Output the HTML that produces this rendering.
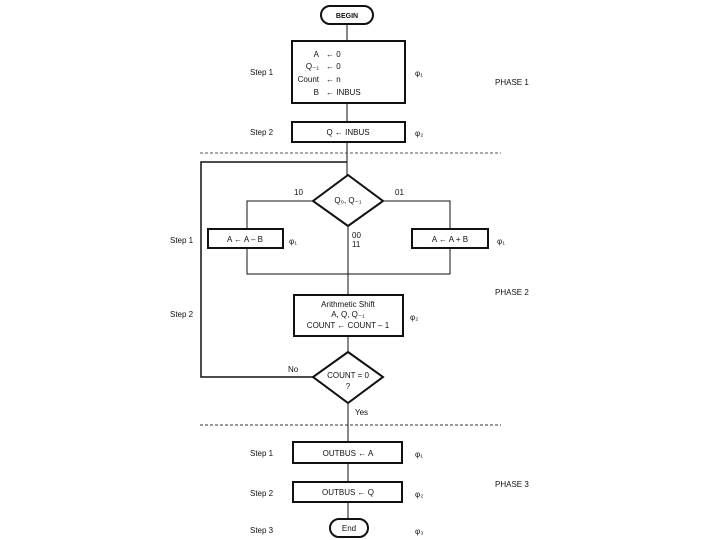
<!DOCTYPE html>
<html><head><meta charset="utf-8"><style>
html,body{margin:0;padding:0;background:#fff;}
svg{display:block;}
text{font-family:"Liberation Sans",sans-serif;font-size:8px;fill:#111;}
</style></head><body>
<svg width="720" height="540" viewBox="0 0 720 540" xmlns="http://www.w3.org/2000/svg">
<g stroke="#111" fill="none">
<!-- begin -->
<rect x="321" y="6" width="52" height="18" rx="9" stroke-width="2"/>
<line x1="347" y1="24" x2="347" y2="40" stroke-width="1"/>
<rect x="292" y="41" width="113" height="62" stroke-width="2"/>
<line x1="347" y1="103" x2="347" y2="121" stroke-width="1"/>
<rect x="292" y="122" width="113" height="20" stroke-width="2"/>
<line x1="347" y1="142" x2="347" y2="175" stroke-width="1"/>
<line x1="200" y1="153" x2="501" y2="153" stroke-width="1" stroke-dasharray="3,2" stroke="#555"/>
<!-- loop -->
<polyline points="313,377 201,377 201,162 347,162" stroke-width="1.5"/>
<!-- diamond 1 -->
<polygon points="348,175 383,201 348,226 313,201" stroke-width="2"/>
<polyline points="313,201 247,201 247,228" stroke-width="1"/>
<polyline points="383,201 450,201 450,228" stroke-width="1"/>
<rect x="208" y="229" width="75" height="19" stroke-width="2"/>
<rect x="412" y="229" width="76" height="19" stroke-width="2"/>
<polyline points="247,248 247,274 450,274 450,248" stroke-width="1"/>
<line x1="348" y1="226" x2="348" y2="294" stroke-width="1"/>
<rect x="294" y="295" width="109" height="41" stroke-width="2"/>
<line x1="348" y1="336" x2="348" y2="352" stroke-width="1"/>
<polygon points="348,352 383,377 348,403 313,377" stroke-width="2"/>
<line x1="348" y1="403" x2="348" y2="441" stroke-width="1"/>
<line x1="200" y1="425" x2="501" y2="425" stroke-width="1" stroke-dasharray="3,2" stroke="#333"/>
<rect x="293" y="442" width="109" height="21" stroke-width="2"/>
<line x1="348" y1="463" x2="348" y2="481" stroke-width="1"/>
<rect x="293" y="482" width="109" height="20" stroke-width="2"/>
<line x1="348" y1="502" x2="348" y2="518" stroke-width="1"/>
<rect x="330" y="519" width="38" height="18" rx="9" stroke-width="2"/>
</g>
<g>
<text x="347" y="18" text-anchor="middle" font-weight="bold" style="font-size:7px">BEGIN</text>
<text x="319" y="57" text-anchor="end">A</text><text x="326" y="57">← 0</text>
<text x="319" y="69" text-anchor="end">Q₋₁</text><text x="326" y="69">← 0</text>
<text x="319" y="82" text-anchor="end">Count</text><text x="326" y="82">← n</text>
<text x="319" y="95" text-anchor="end">B</text><text x="326" y="95">← INBUS</text>
<text x="348" y="135" text-anchor="middle">Q ← INBUS</text>
<text x="250" y="75">Step 1</text><text x="415" y="76">φ₁</text><text x="495" y="85">PHASE 1</text>
<text x="250" y="135">Step 2</text><text x="415" y="136">φ₂</text>
<text x="348" y="203" text-anchor="middle">Q₀, Q₋₁</text>
<text x="294" y="195">10</text><text x="395" y="195">01</text>
<text x="352" y="238">00</text><text x="352" y="247">11</text>
<text x="245" y="242" text-anchor="middle">A ← A – B</text>
<text x="450" y="242" text-anchor="middle">A ← A + B</text>
<text x="289" y="244">φ₁</text><text x="497" y="244">φ₁</text>
<text x="170" y="243">Step 1</text><text x="170" y="317">Step 2</text>
<text x="495" y="295">PHASE 2</text>
<text x="348" y="307" text-anchor="middle">Arithmetic Shift</text>
<text x="348" y="317" text-anchor="middle">A, Q, Q₋₁</text>
<text x="348" y="328" text-anchor="middle">COUNT ← COUNT – 1</text>
<text x="410" y="320">φ₂</text>
<text x="348" y="378" text-anchor="middle">COUNT = 0</text>
<text x="348" y="389" text-anchor="middle">?</text>
<text x="288" y="372">No</text><text x="355" y="415">Yes</text>
<text x="348" y="456" text-anchor="middle">OUTBUS ← A</text>
<text x="348" y="495" text-anchor="middle">OUTBUS ← Q</text>
<text x="349" y="531" text-anchor="middle">End</text>
<text x="250" y="456">Step 1</text><text x="415" y="457">φ₁</text>
<text x="250" y="496">Step 2</text><text x="415" y="497">φ₂</text><text x="495" y="487">PHASE 3</text>
<text x="250" y="533">Step 3</text><text x="415" y="534">φ₃</text>
</g>
</svg>
</body></html>
